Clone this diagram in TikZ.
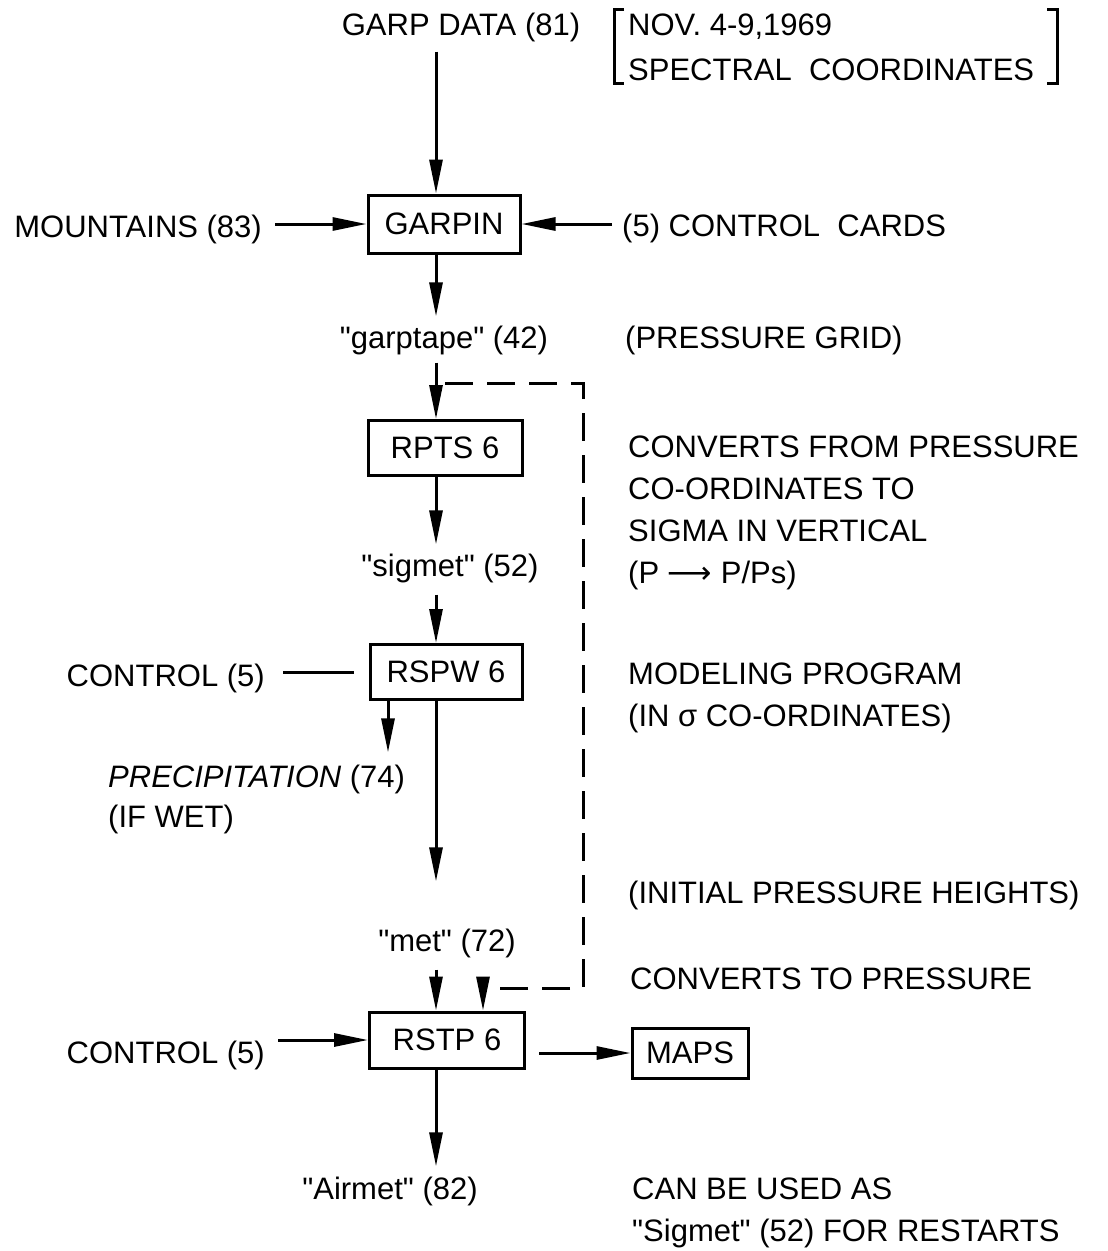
\documentclass[tikz,border=0pt]{standalone}
\usepackage{fontspec}
\setmainfont{Liberation Sans}[Ligatures=TeXOff]
\newfontfamily\arrowfont{DejaVu Sans}
\usetikzlibrary{arrows.meta}
\tikzset{
  txt/.style={inner sep=0pt, font=\fontsize{31}{37}\selectfont},
  lbl/.style={txt, anchor=base west},
  lble/.style={txt, anchor=base east},
  lblc/.style={txt, anchor=base},
  box/.style={draw, line width=3pt, inner sep=0pt, font=\fontsize{31}{37}\selectfont},
  arr/.style={line width=3pt, -{Triangle[length=34pt,width=13pt]}},
  ln/.style={line width=3pt},
  dsh/.style={line width=3pt, dash pattern=on 28pt off 14pt},
  brk/.style={line width=3pt}
}
\begin{document}
\begin{tikzpicture}[x=1pt,y=-1pt]
\useasboundingbox[fill=white] (0,0) rectangle (1108,1251);
\coordinate (spine) at (436,0);
% top
\node[lblc] (garp) at (461,35) {GARP DATA (81)};
\node[lbl] (nov) at (628,35) {NOV.\ 4-9,1969};
\node[lbl] (spec) at (628,80) {SPECTRAL\ \ COORDINATES};
\draw[brk] (624,9) -- (614,9) -- (614,83) -- (624,83);
\draw[brk] (1047,9) -- (1057,9) -- (1057,83) -- (1047,83);
% GARPIN row
\node[box, minimum width=152pt, minimum height=58pt] (garpin) at (444,224) {GARPIN};
\node[lble] (mount) at (262,237) {MOUNTAINS (83)};
\node[lbl] (cards) at (622,236) {(5) CONTROL\ \ CARDS};
\draw[arr] ([yshift=-10pt]garp.south -| spine) -- (garpin.north -| spine);
\draw[arr] ([xshift=13pt]mount.east |- garpin.west) -- (garpin.west);
\draw[arr] ([xshift=-10pt]cards.west |- garpin.east) -- (garpin.east);
% garptape
\node[lblc] (garptape) at (444,348) {"garptape" (42)};
\node[lbl] (pgrid) at (625,348) {(PRESSURE GRID)};
\draw[arr] (garpin.south -| spine) -- ([yshift=9pt]garptape.north -| spine);
% RPTS
\node[box, minimum width=154pt, minimum height=55pt] (rpts) at (445,448) {RPTS 6};
\draw[arr] ([yshift=-8pt]garptape.south -| spine) -- (rpts.north -| spine);
\node[lbl] (c1) at (628,457) {CONVERTS FROM PRESSURE};
\node[lbl] (c2) at (628,499) {CO-ORDINATES TO};
\node[lbl] (c3) at (628,541) {SIGMA IN VERTICAL};
\node[lbl] (c4) at (628,583) {(P {\arrowfont ⟶} P/Ps)};
% sigmet
\node[lblc] (sigmet) at (450,576) {"sigmet" (52)};
\draw[arr] (rpts.south -| spine) -- ([yshift=9pt]sigmet.north -| spine);
% RSPW
\node[box, minimum width=152pt, minimum height=55pt] (rspw) at (446,672) {RSPW 6};
\draw[arr] ([yshift=-12pt]sigmet.south -| spine) -- (rspw.north -| spine);
\node[lble] (ctrlA) at (265,686) {CONTROL (5)};
\draw[ln] ([xshift=18pt]ctrlA.east |- rspw.west) -- ([xshift=-15pt]rspw.west);
\node[lbl] (m1) at (628,684) {MODELING PROGRAM};
\node[lbl] (m2) at (628,726) {(IN σ CO-ORDINATES)};
% precipitation
\node[lbl] (precip) at (108,787) {\itshape PRECIPITATION\upshape\ (74)};
\node[lbl] (ifwet) at (108,827) {(IF WET)};
\coordinate (px) at (388,0);
\draw[arr] (rspw.south -| px) -- ([yshift=12pt]precip.north -| px);
% met
\node[lbl] (init) at (628,903) {(INITIAL PRESSURE HEIGHTS)};
\node[lblc] (met) at (447,951) {"met" (72)};
\node[lbl] (cvt) at (630,989) {CONVERTS TO PRESSURE};
\draw[arr] (rspw.south -| spine) -- ([yshift=47pt]met.north -| spine);
% RSTP
\node[box, minimum width=155pt, minimum height=56pt] (rstp) at (447,1040) {RSTP 6};
\draw[arr] ([yshift=-12pt]met.south -| spine) -- (rstp.north -| spine);
\node[lble] (ctrlB) at (265,1063) {CONTROL (5)};
\draw[arr] ([xshift=13pt]ctrlB.east |- rstp.west) -- (rstp.west);
\node[box, minimum width=116pt, minimum height=50pt] (maps) at (690,1053) {MAPS};
\draw[arr] ([xshift=13pt]rstp.east |- maps.west) -- (maps.west);
% dashed restart path
\coordinate (dA) at (445,383);
\coordinate (dB) at (583,383);
\coordinate (dC) at (583,988);
\coordinate (dD) at (486,988);
\coordinate (dx) at (483,0);
\draw[dsh] (dA) -- (dB) -- (dC) -- (dD);
\draw[arr] ([yshift=-5pt]dD -| dx) -- (rstp.north -| dx);
% Airmet
\node[lblc] (airmet) at (390,1199) {"Airmet" (82)};
\draw[arr] (rstp.south -| spine) -- ([yshift=10pt]airmet.north -| spine);
\node[lbl] (can1) at (632,1199) {CAN BE USED AS};
\node[lbl] (can2) at (632,1241) {"Sigmet" (52) FOR RESTARTS};
\end{tikzpicture}
\end{document}
